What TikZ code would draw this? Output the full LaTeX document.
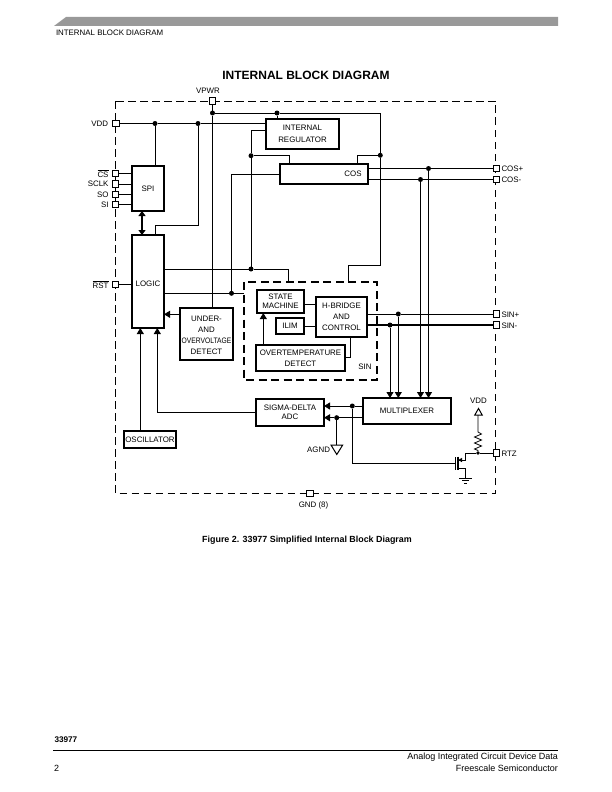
\documentclass[tikz,border=0pt]{standalone}
\usepackage{fontspec}
\setmainfont{Liberation Sans}
\usetikzlibrary{arrows.meta}
\tikzset{
	lbl/.style={inner sep=0, outer sep=0, font=\fontsize{7.9}{11}\selectfont, align=center},
	block/.style={lbl, draw, line width=2pt},
	pin/.style={draw, fill=white, line width=0.7pt, minimum size=6.5pt, inner sep=0, outer sep=0},
	junc/.style={circle, fill=black, minimum size=5pt, inner sep=0, outer sep=0},
	wire/.style={line width=0.8pt},
	tip/.style={wire, -{Triangle[length=6pt,width=7pt]}}
}

\begin{document}
\begin{tikzpicture}[x=1pt, y=-1pt]
			%%%%% START %%%%%
			\useasboundingbox (0, 0) rectangle (612, 792);
			
			% page furniture
			\fill[black!40] (54, 26) -- (66, 17) -- (558, 17) -- (558, 26) -- cycle;
			\node[lbl, anchor=west] (head) at (56, 33) {INTERNAL BLOCK DIAGRAM};
			\node[lbl, font=\fontsize{12}{14}\selectfont\bfseries] (title) at (306, 75) {INTERNAL BLOCK DIAGRAM};
			\node[lbl, font=\fontsize{8.9}{11}\selectfont\bfseries] (caption) at (307, 540) {Figure 2. 33977 Simplified Internal Block Diagram};
			\node[lbl, anchor=west, font=\fontsize{8.2}{11}\selectfont\bfseries] (partno) at (54.5, 740) {33977};
			\draw[line width=1.5pt] (53, 750.5) -- (558, 750.5);
			\node[lbl, anchor=east, font=\fontsize{9}{11}\selectfont] (data) at (558, 757.5) {Analog Integrated Circuit Device Data};
			\node[lbl, anchor=east, font=\fontsize{9}{11}\selectfont] (semi) at (558, 768) {Freescale Semiconductor};
			\node[lbl, anchor=west, font=\fontsize{9}{11}\selectfont] (pageno) at (54, 768) {2};
			
			% package and SIN outlines
			\draw[wire, dash pattern=on 7.5pt off 4.5pt] (115.5, 101) rectangle (495.5, 493);
			\draw[line width=1.8pt, dash pattern=on 8pt off 4.5pt] (244, 282) rectangle (377, 380);
			
			% blocks
			\node[block, minimum width=32pt, minimum height=45pt] (spi) at (148, 188.5) {SPI};
			\node[block, minimum width=32pt, minimum height=93pt] (logic) at (148, 281.5) {};
			\node[lbl] (logicTxt) at (148, 283.5) {LOGIC};
			\node[block, minimum width=73pt, minimum height=30pt] (reg) at (302.5, 134) {INTERNAL\\[1.5pt]REGULATOR};
			\node[block, minimum width=88pt, minimum height=20pt] (cos) at (324, 174) {};
			\node[lbl] (cosTxt) at (353, 174) {COS};
			\node[block, minimum width=53pt, minimum height=52pt] (uvd) at (206.5, 334) {};
			\node[lbl] (uvdTxt) at (206.5, 335) {UNDER-\\AND\\\scalebox{0.85}[1]{OVERVOLTAGE}\\DETECT};
			\node[block, minimum width=47pt, minimum height=23pt] (sm) at (280.5, 301.5) {STATE\\[-1.5pt]MACHINE};
			\node[block, minimum width=28pt, minimum height=16pt] (ilim) at (290, 326) {ILIM};
			\node[block, minimum width=51pt, minimum height=40pt] (hbr) at (341.5, 317) {H-BRIDGE\\AND\\CONTROL};
			\node[block, minimum width=89pt, minimum height=26pt] (otd) at (300.5, 358) {OVERTEMPERATURE\\DETECT};
			\node[lbl] (sinTxt) at (365, 367) {SIN};
			\node[block, minimum width=68pt, minimum height=27pt] (adc) at (290, 412.5) {SIGMA-DELTA\\[-1.5pt]ADC};
			\node[block, minimum width=88pt, minimum height=26pt] (mux) at (407, 411) {MULTIPLEXER};
			\node[block, minimum width=52pt, minimum height=17pt] (osc) at (150, 439.5) {OSCILLATOR};
			
			% pins
			\node[pin] (pVpwr) at (212.5, 101) {};
			\node[pin] (pVdd) at (116, 123.5) {};
			\node[pin] (pCs) at (115.5, 173.5) {};
			\node[pin] (pSclk) at (115.5, 184) {};
			\node[pin] (pSo) at (115.5, 194.5) {};
			\node[pin] (pSi) at (115.5, 204.5) {};
			\node[pin] (pRst) at (115.5, 284.5) {};
			\node[pin] (pCosP) at (496.5, 168.5) {};
			\node[pin] (pCosM) at (496.5, 179.5) {};
			\node[pin] (pSinP) at (496.5, 314) {};
			\node[pin] (pSinM) at (496.5, 325) {};
			\node[pin] (pRtz) at (496.5, 453) {};
			\node[pin] (pGnd) at (310, 493.5) {};
			
			% pin names
			\node[lbl] (tVpwr) at (208, 91) {VPWR};
			\node[lbl, anchor=east] (tVdd) at (108, 123.5) {VDD};
			\node[lbl, anchor=east] (tCs) at (108.5, 173.5) {$\overline{\mbox{CS}}$};
			\node[lbl, anchor=east] (tSclk) at (108.5, 184) {SCLK};
			\node[lbl, anchor=east] (tSo) at (108.5, 194.5) {SO};
			\node[lbl, anchor=east] (tSi) at (108.5, 204.5) {SI};
			\node[lbl, anchor=east] (tRst) at (108.5, 284.5) {$\overline{\mbox{RST}}$};
			\node[lbl, anchor=west] (tCosP) at (501.5, 168.5) {COS+};
			\node[lbl, anchor=west] (tCosM) at (501.5, 179.5) {COS-};
			\node[lbl, anchor=west] (tSinP) at (501.5, 314.5) {SIN+};
			\node[lbl, anchor=west] (tSinM) at (501.5, 325.5) {SIN-};
			\node[lbl, anchor=west] (tRtz) at (501.5, 453.5) {RTZ};
			\node[lbl] (tGnd) at (313.5, 505) {GND (8)};
			\node[lbl, anchor=east] (tAgnd) at (330, 449.5) {AGND};
			\node[lbl] (tVddB) at (478.5, 400.5) {VDD};
			
			% junctions
			\node[junc] (jPwr) at (212.5, 113) {};
			\node[junc] (jReg) at (277, 113) {};
			\node[junc] (jSpi) at (155, 123.5) {};
			\node[junc] (jLog) at (198, 123.5) {};
			\node[junc] (jCosL) at (251, 155.7) {};
			\node[junc] (jCosR) at (380.3, 155.3) {};
			\node[junc] (jSm) at (251, 269) {};
			\node[junc] (jSin) at (231.5, 293.3) {};
			\node[junc] (jCosP) at (428.5, 168.5) {};
			\node[junc] (jCosM) at (420.5, 179.5) {};
			\node[junc] (jSinP) at (398.3, 314) {};
			\node[junc] (jSinM) at (390, 325) {};
			\node[junc] (jAdcA) at (352.3, 406) {};
			\node[junc] (jAdcB) at (336.7, 417.7) {};
			\node[junc, minimum size=3.8pt] (jRtz) at (478, 453) {};
			
			% supply rails
			\draw[wire] (pVpwr) -- (jPwr) -- (jPwr |- uvd.north);
			\draw[wire] (jPwr) -- (jReg) -- (380.3, 113) -- (jCosR) -- (380.3, 265.5) -- (348.3, 265.5) -- (348.3, 282);
			\draw[wire] (jReg) -- (jReg |- reg.north);
			\draw[wire] (jCosR) -- (357.3, 155.3) -- (357.3 , 164);
			\draw[wire] (pVdd) -- (jSpi) -- (jLog) -- (reg.west |- jLog);
			\draw[wire] (jSpi) -- (jSpi |- spi.north);
			\draw[wire] (jLog) -- (198, 225.3) -- (155.3, 225.3) -- (155.3, 235);
			\draw[wire] (reg.west |- 0, 130.3) -- (251, 130.3) -- (jCosL) -- (jSm);
			\draw[wire] (jCosL) -- (289.3, 155.7) -- (289.3, 164);
			\draw[wire] (logic.east |- jSm) -- (jSm) -- (288.7, 269) -- (288.7, 282);
			\draw[wire] (cos.west) -- (231.5, 174) -- (jSin);
			\draw[wire] (logic.east |- jSin) -- (jSin) -- (244, 293.3);
			
			% SPI and LOGIC
			\draw[wire] (pCs) -- (spi.west |- pCs);
			\draw[wire] (pSclk) -- (spi.west |- pSclk);
			\draw[wire] (pSo) -- (spi.west |- pSo);
			\draw[wire] (pSi) -- (spi.west |- pSi);
			\draw[wire] (pRst) -- (logic.west |- pRst);
			\draw[line width=1.8pt, {Triangle[length=5pt,width=7pt]}-{Triangle[length=5pt,width=7pt]}] (142, 211) -- (142, 235);
			\draw[tip] (uvd.west |- 0, 314.3) -- (logic.east |- 0, 314.3);
			\draw[tip] (osc.north -| 140.3, 0) -- (logic.south -| 140.3, 0);
			\draw[tip] (adc.west) -- (157.3, 412.5) -- (logic.south -| 157.3, 0);
			
			% SIN block
			\draw[tip] (otd.north -| 263.3, 0) -- (sm.south -| 263.3, 0);
			\draw[wire] (sm.east |- 0, 304) -- (hbr.west |- 0, 304);
			\draw[wire] (ilim.east) -- (hbr.west |- ilim.east);
			\draw[wire] (hbr.south -| 350.3, 0) -- (350.3, 357) -- (otd.east |- 0, 357);
			
			% outputs to multiplexer
			\draw[wire] (cos.east |- pCosP) -- (jCosP) -- (pCosP);
			\draw[wire] (cos.east |- pCosM) -- (jCosM) -- (pCosM);
			\draw[wire] (hbr.east |- pSinP) -- (jSinP) -- (pSinP);
			\draw[line width=1.6pt] (hbr.east |- pSinM) -- (pSinM);
			\draw[tip] (jCosP) -- (jCosP |- mux.north);
			\draw[tip] (jCosM) -- (jCosM |- mux.north);
			\draw[tip] (jSinP) -- (jSinP |- mux.north);
			\draw[tip] (jSinM) -- (jSinM |- mux.north);
			\draw[tip] (mux.west |- jAdcA) -- (jAdcA) -- (adc.east |- jAdcA);
			\draw[tip] (mux.west |- jAdcB) -- (jAdcB) -- (adc.east |- jAdcB);
			
			% AGND
			\coordinate (gndTop) at (336.7, 445);
			\draw[wire] (jAdcB) -- (gndTop);
			\draw[line width=1pt] (331, 445) -- (342.7, 445) -- (336.8, 454.5) -- cycle;
			
			% RTZ transistor
			\coordinate (drain) at (465.7, 453);
			\coordinate (gate) at (455.5, 463.3);
			\coordinate (src) at (465.7, 478.3);
			\draw[wire] (jAdcA) -- (352.3, 463.3) -- (gate);
			\draw[wire] (455.7, 457) -- (455.7, 469.5);
			\draw[line width=1.1pt] (458, 456.5) -- (458, 470);
			\draw[wire] (pRtz) -- (jRtz) -- (drain) -- (465.7, 460) -- (458, 460);
			\fill (458.3, 460) -- (462, 457.8) -- (462, 462.2) -- cycle;
			\draw[wire] (458, 468) -- (465.7, 468) -- (src);
			\draw[wire] (459.3, 478.3) -- (471.5, 478.3);
			\draw[wire] (462, 480.8) -- (469, 480.8);
			\draw[wire] (464, 483.3) -- (467, 483.3);
			
			% RTZ pull-up
			\draw[wire] (jRtz) -- (478, 450.5) -- (474.5, 449) -- (481.5, 446) -- (474.5, 443) -- (481.5, 440) -- (474.5, 437) -- (481.5, 434) -- (478, 432) -- (478, 415);
			\draw[line width=1pt] (474.8, 415) -- (482.2, 415) -- (478.5, 408.5) -- cycle;
			
			%%%%% END %%%%%
		\end{tikzpicture}
\end{document}
